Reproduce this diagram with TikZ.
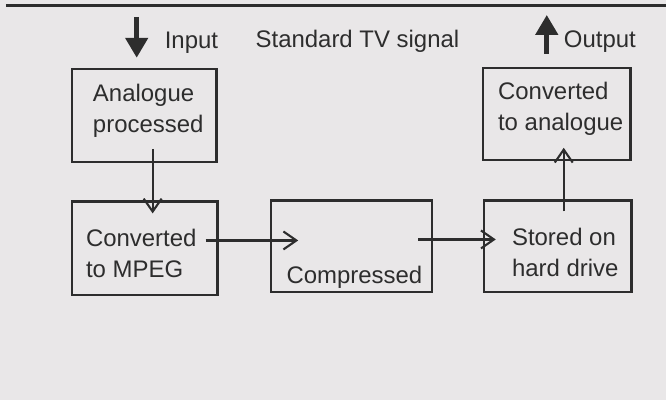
\documentclass[tikz,border=0pt]{standalone}
\usepackage{fontspec}
\setmainfont{Liberation Sans}
\usetikzlibrary{arrows.meta}
\definecolor{paper}{RGB}{233,231,232}
\definecolor{ink}{RGB}{45,45,45}
\tikzset{
  box/.style={draw=ink, line width=2.2pt, inner sep=0pt},
  txt/.style={anchor=base west, inner sep=0pt, align=left, text=ink,
    font=\fontsize{24}{31}\selectfont},
  conn/.style={draw=ink, line width=2.1pt,
    -{Straight Barb[length=13pt,width=18pt,line width=2.1pt]}},
  bigarrow/.style={draw=ink, line width=4.8pt,
    -{Triangle[length=20pt,width=22pt]}}
}
\begin{document}
\begin{tikzpicture}[x=1pt,y=-1pt]
            % Draw paper and top rule
            \fill[paper] (0,0) rectangle (667,401);
            \draw[ink, line width=3pt] (6,6) -- (667,6);
            % Draw boxes
            \node[box, minimum width=145pt, minimum height=93pt] (A) at (144.5,115.5) {};
            \node[box, minimum width=146pt, minimum height=94pt] (B) at (145,249) {};
            \node[box, minimum width=161pt, minimum height=92pt] (C) at (352.5,247) {};
            \node[box, minimum width=148pt, minimum height=92pt] (D) at (559,247) {};
            \node[box, minimum width=148pt, minimum height=92pt] (E) at (558,114) {};
            % Box texts (anchored on the last line)
            \node[txt] (tA) at (93,133) {Analogue\\processed};
            \node[txt] (tB) at (86,278) {Converted\\to MPEG};
            \node[txt] (tC) at (287,284) {Compressed};
            \node[txt] (tD) at (513,277) {Stored on\\hard drive};
            \node[txt] (tE) at (499,131) {Converted\\to analogue};
            % Top labels
            \node[txt] (input) at (165,49) {Input};
            \node[txt] (signal) at (256,48) {Standard TV signal};
            \node[txt] (output) at (565,48) {Output};
            % Input and output arrows
            \coordinate (inTop) at (137,17);
            \coordinate (outTop) at (548,15);
            \draw[bigarrow] (inTop) -- ([xshift=-7.5pt,yshift=10pt]A.north);
            \draw[bigarrow] ([xshift=-10pt,yshift=13pt]E.north) -- (outTop);
            % Connectors
            \draw[conn] ([xshift=8.5pt,yshift=14pt]A.south) -- ([xshift=8pt,yshift=-13pt]B.north);
            \draw[conn] ([xshift=-13pt,yshift=8pt]B.east) -- ([xshift=28pt,yshift=6pt]C.west);
            \draw[conn] ([xshift=-15pt,yshift=7pt]C.east) -- ([xshift=13pt,yshift=7pt]D.west);
            \draw[conn] ([xshift=6pt,yshift=-12pt]D.north) -- ([xshift=7pt,yshift=13pt]E.south);
        \end{tikzpicture}
\end{document}
